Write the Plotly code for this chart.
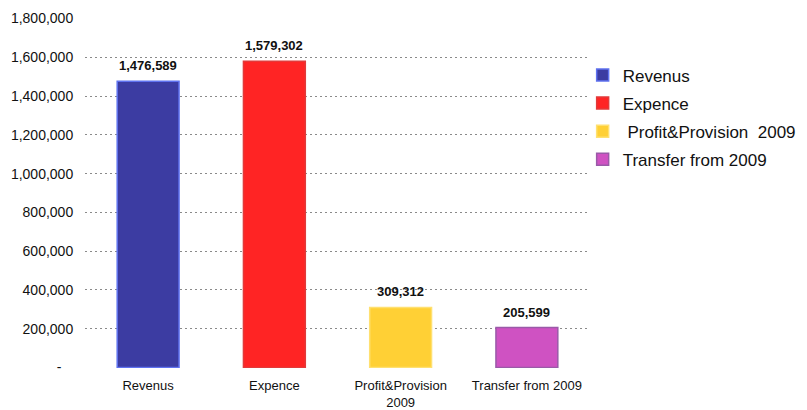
import plotly.graph_objects as go

# Budget summary figures
categories = ["Revenus", "Expence", "Profit&Provision<br>2009", "Transfer from 2009"]
legend_names = ["Revenus", "Expence", " Profit&Provision  2009", "Transfer from 2009"]
values = [1476589, 1579302, 309312, 205599]
fill_colors = ["#3c3ca2", "#ff2424", "#ffd035", "#cf52c2"]
edge_colors = ["#5f72f0", "#e23a3a", "#ffe070", "#9a5aa8"]

tick_vals = [0, 200000, 400000, 600000, 800000, 1000000, 1200000, 1400000, 1600000, 1800000]
tick_text = ["-\u00a0\u00a0\u00a0", "200,000", "400,000", "600,000", "800,000", "1,000,000",
             "1,200,000", "1,400,000", "1,600,000", "1,800,000"]

FONT = "Liberation Sans, Arial, sans-serif"

fig = go.Figure()
for cat, name, val, fc, ec in zip(categories, legend_names, values, fill_colors, edge_colors):
    fig.add_trace(go.Bar(
        x=[cat], y=[val], name=name, legendgroup=name,
        marker=dict(color=fc, line=dict(color=ec, width=1.5)),
        width=0.49,
    ))
    # value label above each bar
    fig.add_annotation(
        x=cat, y=val, text=f"<b>{val:,}</b>", showarrow=False,
        yanchor="bottom", yshift=6,
        font=dict(family=FONT, size=13, color="#111"),
    )

fig.update_layout(
    width=807, height=410,
    margin=dict(l=85, r=217, t=18, b=42, autoexpand=False),
    paper_bgcolor="white", plot_bgcolor="white",
    barmode="overlay",
    font=dict(family=FONT, color="#111"),
    showlegend=True,
    legend=dict(
        xref="container", yref="container",
        x=0.722, y=0.86, xanchor="left", yanchor="top",
        font=dict(family=FONT, size=17, color="#111"),
        bgcolor="rgba(0,0,0,0)",
        tracegroupgap=3,
    ),
    xaxis=dict(
        categoryorder="array", categoryarray=categories,
        showline=False, ticks="outside", ticklen=5, tickcolor="rgba(0,0,0,0)",
        showgrid=False,
        tickfont=dict(family=FONT, size=13, color="#111"),
    ),
    yaxis=dict(
        range=[-3000, 1803000],
        tickvals=tick_vals, ticktext=tick_text,
        showgrid=True, gridcolor="#8a8a8a", griddash="2px,3px", gridwidth=1,
        zeroline=False, showline=False,
        ticks="outside", ticklen=8, tickcolor="rgba(0,0,0,0)",
        tickfont=dict(family=FONT, size=14, color="#111"),
    ),
)

fig.write_html("out.html")
